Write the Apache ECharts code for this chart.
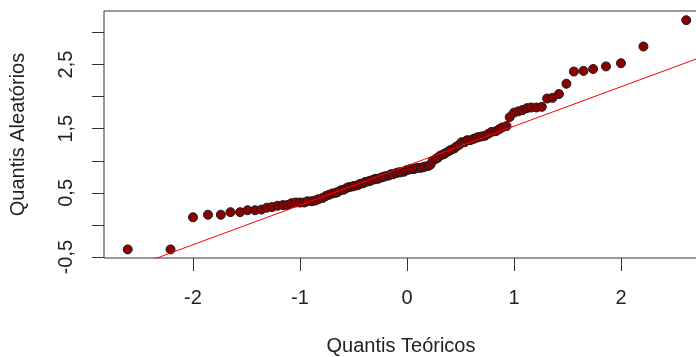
<!DOCTYPE html>
<html>
<head>
<meta charset="utf-8">
<script src="https://cdn.jsdelivr.net/npm/echarts@6/dist/echarts.min.js"></script>
<style>
  html, body { margin: 0; padding: 0; background: #fff; }
  #qq_chart { width: 696px; height: 357px; }
</style>
</head>
<body>
<div id="qq_chart"></div>
<script>
// quantis teóricos (n = 110)
const theoretical = [
  -2.61, -2.21, -2.00, -1.86, -1.74, -1.65, -1.56, -1.49, -1.42, -1.36,
  -1.31, -1.26, -1.21, -1.16, -1.12, -1.08, -1.04, -1.00, -0.96, -0.93,
  -0.89, -0.86, -0.83, -0.79, -0.76, -0.73, -0.70, -0.67, -0.65, -0.62,
  -0.59, -0.56, -0.54, -0.51, -0.49, -0.46, -0.44, -0.41, -0.39, -0.36,
  -0.34, -0.31, -0.29, -0.27, -0.24, -0.22, -0.20, -0.17, -0.15, -0.13,
  -0.10, -0.08, -0.06, -0.03, -0.01, 0.01, 0.03, 0.06, 0.08, 0.10,
  0.13, 0.15, 0.17, 0.20, 0.22, 0.24, 0.27, 0.29, 0.31, 0.34,
  0.36, 0.39, 0.41, 0.44, 0.46, 0.49, 0.51, 0.54, 0.56, 0.59,
  0.62, 0.65, 0.67, 0.70, 0.73, 0.76, 0.79, 0.83, 0.86, 0.89,
  0.93, 0.96, 1.00, 1.04, 1.08, 1.12, 1.16, 1.21, 1.26, 1.31,
  1.36, 1.42, 1.49, 1.56, 1.65, 1.74, 1.86, 2.00, 2.21, 2.61
];

// quantis aleatórios (amostra ordenada)
const sample = [
  -0.38, -0.38, 0.12, 0.16, 0.16, 0.20, 0.20, 0.23, 0.23, 0.24,
  0.27, 0.28, 0.30, 0.31, 0.31, 0.34, 0.35, 0.35, 0.35, 0.37,
  0.37, 0.38, 0.40, 0.42, 0.45, 0.47, 0.49, 0.50, 0.51, 0.54,
  0.55, 0.58, 0.59, 0.60, 0.61, 0.62, 0.64, 0.65, 0.67, 0.68,
  0.69, 0.71, 0.72, 0.72, 0.74, 0.75, 0.76, 0.77, 0.79, 0.79,
  0.81, 0.82, 0.82, 0.83, 0.85, 0.86, 0.87, 0.87, 0.88, 0.89,
  0.89, 0.90, 0.91, 0.92, 0.94, 1.00, 1.03, 1.05, 1.08, 1.10,
  1.12, 1.15, 1.17, 1.19, 1.22, 1.25, 1.29, 1.29, 1.32, 1.32,
  1.34, 1.36, 1.37, 1.38, 1.39, 1.42, 1.45, 1.46, 1.49, 1.52,
  1.54, 1.68, 1.75, 1.77, 1.79, 1.82, 1.83, 1.83, 1.84, 1.97,
  1.98, 2.04, 2.20, 2.39, 2.40, 2.43, 2.47, 2.52, 2.78, 3.19
];

// qqline
const lineIntercept = 0.923;
const lineSlope = 0.615;

const xTicks = [-2, -1, 0, 1, 2];
const yTicks = [-0.5, 0, 0.5, 1, 1.5, 2, 2.5, 3];
const yLabels = [-0.5, 0.5, 1.5, 2.5];

const xMin = -2.832, xMax = 2.72;
const yMin = -0.514, yMax = 3.333;

const textColor = "#222";
const font = "Liberation Sans";

const drawQQ = () => {
    const chart = echarts.init(document.getElementById("qq_chart"), null, { renderer: "canvas" });

    const points = theoretical.map((x, i) => [x, sample[i]]);
    const lineData = [xMin, xMax].map(x => [x, lineIntercept + lineSlope * x]);

    const option = {
        animation: false,
        backgroundColor: "#fff",
        grid: {
            left: 104,
            top: 11,
            right: -2,
            bottom: 99,
            outerBoundsMode: "none",
            containLabel: false,
            show: true,
            borderColor: "#333",
            borderWidth: 1,
            backgroundColor: "transparent"
        },
        xAxis: {
            type: "value",
            min: xMin,
            max: xMax,
            name: "Quantis Teóricos",
            nameLocation: "middle",
            nameGap: 78,
            nameTextStyle: { fontFamily: font, fontSize: 20, color: textColor },
            axisLine: { show: false, onZero: false },
            splitLine: { show: false },
            axisTick: {
                show: true,
                inside: false,
                length: 13,
                customValues: xTicks,
                lineStyle: { color: "#333", width: 1 }
            },
            axisLabel: {
                customValues: xTicks,
                margin: 30,
                fontFamily: font,
                fontSize: 20,
                color: textColor,
                formatter: v => String(v)
            }
        },
        yAxis: {
            type: "value",
            min: yMin,
            max: yMax,
            name: "Quantis Aleatórios",
            nameLocation: "middle",
            nameGap: 76,
            nameRotate: 90,
            nameTextStyle: { fontFamily: font, fontSize: 20, color: textColor },
            axisLine: { show: false, onZero: false },
            splitLine: { show: false },
            axisTick: {
                show: true,
                inside: false,
                length: 12,
                customValues: yTicks,
                lineStyle: { color: "#333", width: 1 }
            },
            axisLabel: {
                customValues: yLabels,
                rotate: 90,
                margin: 28,
                fontFamily: font,
                fontSize: 20,
                color: textColor,
                formatter: v => v.toFixed(1).replace(".", ",")
            }
        },
        series: [
            {
                type: "scatter",
                data: points,
                symbol: "circle",
                symbolSize: 9,
                itemStyle: {
                    color: "#8b0000",
                    borderColor: "#1a1a1a",
                    borderWidth: 1,
                    opacity: 1
                },
                z: 2
            },
            {
                type: "line",
                data: lineData,
                showSymbol: false,
                symbol: "none",
                clip: true,
                lineStyle: { color: "#ff0000", width: 1 },
                z: 3
            }
        ]
    };

    chart.setOption(option);
};

document.addEventListener("DOMContentLoaded", () => {
    drawQQ();
});
</script>
</body>
</html>
